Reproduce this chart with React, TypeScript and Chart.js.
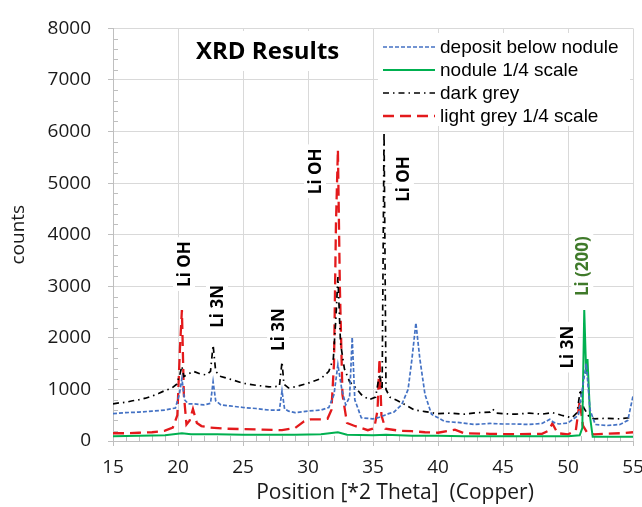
import React, { useEffect, useRef } from "react";
import { Chart, registerables } from "chart.js";
Chart.register(...registerables);

// ---- data ----
const depositX = [15, 16, 17, 18, 19, 19.8, 20.1, 20.3, 20.5, 20.8, 21.2, 22, 22.5, 22.7, 22.9, 23.3, 24, 25, 26, 27, 27.8, 28.0, 28.2, 28.5, 29, 30, 31, 31.6, 32.0, 32.3, 32.6, 32.9, 33.2, 33.4, 33.6, 34.1, 35, 35.5, 35.9, 36.2, 36.6, 37.2, 37.7, 38.0, 38.3, 38.6, 39.0, 39.5, 40.5, 41.5, 42.8, 44, 45, 46, 47, 48, 48.6, 48.9, 49.3, 50, 50.8, 51.1, 51.4, 51.7, 52.1, 53, 54, 54.6, 55];
const depositY = [530, 550, 560, 580, 600, 640, 900, 1210, 800, 720, 720, 700, 730, 1150, 780, 700, 680, 650, 630, 600, 600, 970, 620, 580, 550, 580, 600, 650, 900, 1480, 1000, 700, 850, 2010, 800, 450, 430, 460, 500, 530, 560, 700, 1000, 1600, 2290, 1600, 900, 520, 380, 360, 320, 340, 330, 330, 320, 340, 420, 360, 330, 350, 500, 1000, 1500, 600, 320, 300, 320, 400, 870];

const noduleX = [15, 17, 19, 20.3, 21, 23, 25, 27, 29, 31, 32.3, 33, 35, 36, 38, 40, 42, 44, 46, 48, 50, 50.9, 51.1, 51.25, 51.4, 51.5, 51.7, 51.9, 53, 55];
const noduleY = [90, 100, 110, 150, 130, 130, 120, 120, 120, 130, 170, 120, 110, 120, 100, 100, 90, 90, 90, 90, 90, 110, 250, 2540, 1300, 1590, 460, 80, 80, 80];

const darkGreyX = [15, 15.5, 16, 16.5, 17, 17.5, 18, 18.5, 19, 19.5, 19.9, 20.15, 20.3, 20.45, 20.8, 21.2, 21.7, 22.2, 22.5, 22.7, 22.9, 23.3, 24, 25, 26, 27, 27.8, 28.0, 28.15, 28.5, 29, 30, 31, 31.6, 31.95, 32.15, 32.3, 32.5, 32.8, 33.2, 33.6, 34.1, 34.7, 35.2, 35.5, 35.7, 35.85, 36.0, 36.3, 36.9, 37.5, 38.2, 39, 40, 41, 42, 43, 44, 44.2, 44.5, 45, 46, 47, 48, 48.8, 49.5, 50.3, 50.7, 50.95, 51.2, 51.6, 52, 53, 54, 54.7, 55];
const darkGreyY = [720, 740, 750, 780, 800, 830, 870, 920, 980, 1020, 1100, 1300, 1450, 1250, 1300, 1350, 1300, 1280, 1350, 1860, 1350, 1250, 1200, 1120, 1080, 1050, 1060, 1535, 1100, 1030, 1050, 1120, 1210, 1350, 1600, 2400, 3180, 1900, 1400, 1150, 1050, 900, 800, 850, 1300, 1000, 5990, 1000, 850, 780, 700, 600, 570, 530, 540, 520, 550, 560, 620, 540, 530, 520, 540, 520, 550, 500, 450, 550, 1000, 650, 480, 430, 440, 430, 450, 480];

const lightGreyX = [15, 16, 17, 18, 19, 19.6, 19.95, 20.15, 20.3, 20.45, 20.65, 20.9, 21.15, 21.45, 21.8, 22.5, 23.5, 25, 26.5, 28, 29, 29.7, 30.2, 31, 31.5, 31.8, 32.0, 32.15, 32.3, 32.45, 32.65, 33.0, 33.5, 34.0, 34.6, 35.1, 35.35, 35.5, 35.65, 35.95, 37, 38, 39, 40, 41.3, 42, 44, 46, 48, 48.5, 48.8, 49.2, 50, 50.6, 50.9, 51.15, 51.5, 52, 53, 54, 55];
const lightGreyY = [150, 150, 160, 170, 200, 260, 500, 1800, 2540, 900, 320, 400, 620, 350, 290, 260, 240, 230, 220, 210, 250, 380, 420, 420, 430, 600, 1500, 4200, 5650, 3000, 900, 350, 300, 260, 210, 250, 600, 1600, 500, 240, 200, 190, 170, 160, 220, 150, 140, 130, 140, 200, 340, 150, 130, 200, 780, 300, 150, 130, 140, 150, 170];

const seriesNames = ["deposit below nodule", "nodule 1/4 scale", "dark grey", "light grey 1/4 scale"];

const peakLabels = ["Li OH", "Li 3N", "Li 3N", "Li OH", "Li OH", "Li 3N", "Li (200)"];
const peakLabelX = [20.46, 23.0, 27.7, 30.54, 37.3, 49.9, 51.1];
const peakLabelY = [3430, 2610, 2160, 5230, 5080, 1820, 3390];
const peakLabelColor = ["#000", "#000", "#000", "#000", "#000", "#000", "#3F7A2A"];

const chartTitle = "XRD Results";
const xTitle = "Position [*2 Theta]  (Copper)";
const yTitle = "counts";

const FONT = "'Open Sans', sans-serif";
const TXT = "#1a1a1a";

const pts = (xs: number[], ys: number[]) => xs.map((x, i) => ({ x, y: ys[i] }));

const decor = {
  id: "decor",
  beforeDatasetsDraw(chart: any) {
    const { ctx, chartArea: a, scales } = chart;
    const x = scales.x;
    const y = scales.y;
    ctx.save();
    // minor ticks
    ctx.strokeStyle = "#bfbfbf";
    ctx.lineWidth = 1;
    ctx.beginPath();
    for (let v = 200; v < 8000; v += 200) {
      if (v % 1000 === 0) continue;
      const py = Math.round(y.getPixelForValue(v)) + 0.5;
      ctx.moveTo(a.left, py);
      ctx.lineTo(a.left + 5, py);
    }
    for (let v = 16; v < 55; v++) {
      if (v % 5 === 0) continue;
      const px = Math.round(x.getPixelForValue(v)) + 0.5;
      ctx.moveTo(px, a.bottom);
      ctx.lineTo(px, a.bottom - 5);
    }
    ctx.stroke();

    // x axis title
    ctx.fillStyle = TXT;
    ctx.font = `21px ${FONT}`;
    ctx.textAlign = "center";
    ctx.textBaseline = "middle";
    ctx.fillText(xTitle, 395, 493);

    // title box
    ctx.fillStyle = "#fff";
    ctx.fillRect(185, 31, 188, 40);
    ctx.fillStyle = "#000";
    ctx.font = `bold 24px ${FONT}`;
    ctx.textAlign = "left";
    ctx.textBaseline = "middle";
    ctx.fillText(chartTitle, 196, 52);

    // legend box
    ctx.fillStyle = "#fff";
    ctx.fillRect(378, 33, 252, 93);
    chart.data.datasets.forEach((ds: any, i: number) => {
      const ry = 47 + i * 23;
      ctx.save();
      ctx.strokeStyle = ds.borderColor;
      ctx.lineWidth = ds.borderWidth;
      ctx.setLineDash(ds.borderDash || []);
      ctx.beginPath();
      ctx.moveTo(383, ry);
      ctx.lineTo(435, ry);
      ctx.stroke();
      ctx.restore();
      ctx.fillStyle = "#000";
      ctx.font = `19px 'Liberation Sans', Arial, sans-serif`;
      ctx.textAlign = "left";
      ctx.textBaseline = "middle";
      ctx.fillText(ds.label, 440, ry + 1);
    });

    // peak labels
    ctx.font = `bold 17px ${FONT}`;
    peakLabels.forEach((t, i) => {
      const px = x.getPixelForValue(peakLabelX[i]);
      const py = y.getPixelForValue(peakLabelY[i]);
      const w = ctx.measureText(t).width;
      ctx.save();
      ctx.translate(px, py);
      ctx.rotate(-Math.PI / 2);
      ctx.fillStyle = "#fff";
      ctx.fillRect(-w / 2 - 4, -11, w + 8, 22);
      ctx.fillStyle = peakLabelColor[i];
      ctx.textAlign = "center";
      ctx.textBaseline = "middle";
      ctx.fillText(t, 0, 1);
      ctx.restore();
    });
    ctx.restore();
  },
};

export default function App() {
  const ref = useRef<HTMLCanvasElement | null>(null);
  useEffect(() => {
    if (!ref.current) return;
    const chart = new Chart(ref.current, {
      type: "scatter",
      data: {
        datasets: [
          { label: seriesNames[0], data: pts(depositX, depositY), borderColor: "#4472C4", backgroundColor: "#4472C4", borderWidth: 1.7, borderDash: [4, 2], showLine: true, pointRadius: 0 },
          { label: seriesNames[1], data: pts(noduleX, noduleY), borderColor: "#00B050", backgroundColor: "#00B050", borderWidth: 2, borderDash: [], showLine: true, pointRadius: 0 },
          { label: seriesNames[2], data: pts(darkGreyX, darkGreyY), borderColor: "#000000", backgroundColor: "#000000", borderWidth: 1.7, borderDash: [6, 4, 1.5, 4], showLine: true, pointRadius: 0 },
          { label: seriesNames[3], data: pts(lightGreyX, lightGreyY), borderColor: "#E31A1C", backgroundColor: "#E31A1C", borderWidth: 2.3, borderDash: [11, 6], showLine: true, pointRadius: 0 },
        ] as any,
      },
      options: {
        responsive: false,
        animation: false,
        devicePixelRatio: 1,
        layout: { padding: { top: 19, right: 27, bottom: 0, left: 0 } },
        plugins: { legend: { display: false }, tooltip: { enabled: false } },
        elements: { line: { tension: 0 }, point: { radius: 0 } },
        scales: {
          x: {
            type: "linear",
            min: 15,
            max: 55,
            ticks: { stepSize: 5, font: { family: FONT, size: 19 }, color: TXT, padding: 10, maxRotation: 0 },
            grid: { color: "#d9d9d9", tickLength: 5, tickColor: "#bfbfbf" },
            border: { color: "#bfbfbf" },
            title: { display: false, text: xTitle },
            afterFit: (s: any) => { s.height = 66; },
          },
          y: {
            type: "linear",
            min: 0,
            max: 8000,
            ticks: { stepSize: 1000, font: { family: FONT, size: 19 }, color: TXT, padding: 17, callback: (v: any) => String(v) },
            grid: { color: "#d9d9d9", tickLength: 5, tickColor: "#bfbfbf" },
            border: { color: "#bfbfbf" },
            title: { display: true, text: yTitle, font: { family: FONT, size: 19 }, color: TXT, padding: { top: 7, bottom: 0 } },
            afterFit: (s: any) => { s.width = 113; },
          },
        },
      } as any,
      plugins: [decor],
    });
    return () => chart.destroy();
  }, []);
  return (
    <div style={{ position: "fixed", left: 0, top: 0, width: 642, height: 507, overflow: "hidden", background: "#fff" }}>
      <canvas ref={ref} width={660} height={507} style={{ width: 660, height: 507, display: "block" }} />
    </div>
  );
}
